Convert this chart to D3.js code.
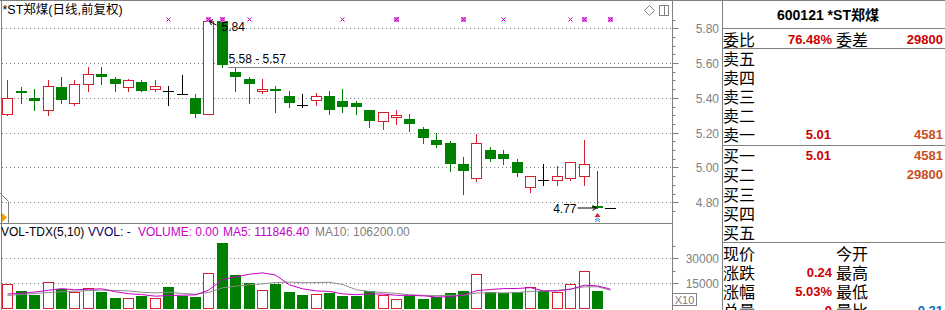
<!DOCTYPE html>
<html>
<head>
<meta charset="utf-8">
<script src="https://cdn.jsdelivr.net/npm/d3@7"></script>
<style>
  html, body { margin: 0; padding: 0; background: #fff; }
  svg { display: block; }
</style>
</head>
<body>
<div id="chart"></div>
<script>
// daily candles, oldest first (last one is today's pre-open, no trades yet)
const opens  = [5.31, 5.44, 5.40, 5.33, 5.46, 5.37, 5.48, 5.54, 5.51, 5.46, 5.49, 5.45, 5.44, 5.42, 5.40, 5.31,
                5.84, 5.55, 5.51, 5.44, 5.45, 5.41, 5.36, 5.39, 5.41, 5.38, 5.37, 5.33, 5.27, 5.29, 5.28, 5.22,
                5.16, 5.14, 5.02, 4.94, 5.10, 5.08, 5.03, 4.89, 4.93, 4.93, 4.94, 4.95, 4.78, 4.77];
const highs  = [5.50, 5.46, 5.45, 5.50, 5.52, 5.50, 5.58, 5.58, 5.52, 5.51, 5.50, 5.50, 5.47, 5.53, 5.42, 5.84,
                5.84, 5.57, 5.52, 5.51, 5.47, 5.44, 5.42, 5.43, 5.44, 5.45, 5.38, 5.33, 5.32, 5.33, 5.31, 5.23,
                5.20, 5.15, 5.06, 5.19, 5.12, 5.10, 5.05, 4.95, 5.02, 5.01, 5.03, 5.16, 4.98, 4.77];
const lows   = [5.30, 5.37, 5.33, 5.30, 5.37, 5.36, 5.44, 5.48, 5.44, 5.44, 5.44, 5.44, 5.36, 5.42, 5.29, 5.31,
                5.58, 5.44, 5.37, 5.43, 5.32, 5.35, 5.35, 5.36, 5.31, 5.32, 5.31, 5.23, 5.22, 5.25, 5.21, 5.14,
                5.12, 4.98, 4.85, 4.92, 5.04, 5.02, 4.95, 4.86, 4.90, 4.90, 4.93, 4.90, 4.77, 4.77];
const closes = [5.40, 5.43, 5.38, 5.47, 5.39, 5.48, 5.54, 5.52, 5.48, 5.50, 5.44, 5.47, 5.44, 5.42, 5.31, 5.84,
                5.59, 5.52, 5.48, 5.45, 5.44, 5.37, 5.36, 5.41, 5.33, 5.35, 5.35, 5.27, 5.32, 5.30, 5.25, 5.17,
                5.13, 5.02, 4.98, 5.14, 5.05, 5.05, 4.97, 4.95, 4.93, 4.95, 5.03, 5.02, 4.77, 4.77];
// volume in axis units (x10)
const volumes = [14330, 10060, 7810, 15370, 11100, 9630, 11710, 9450, 5790, 5610, 6830, 5610, 12500, 7010, 6400, 21040,
                 39330, 19820, 14940, 10490, 14510, 9450, 7620, 8230, 9020, 7010, 7200, 9880, 7810, 5000, 7200, 5370,
                 6400, 8840, 10060, 20250, 9450, 9000, 9450, 12300, 10100, 9450, 14330, 22080, 10060, 0];
const volMa5  = [8200, 8700, 9400, 10500, 11500, 10800, 11100, 11400, 9600, 8400, 7900, 6900, 7300, 7500, 7700, 10500,
                 17000, 18700, 20300, 21100, 19800, 13800, 11400, 10100, 9800, 8300, 7800, 8300, 8200, 7400, 7400, 7100,
                 6400, 6600, 7600, 10200, 11000, 11500, 11600, 12100, 10100, 10100, 11100, 13600, 13200, 11185];
const volMa10 = [7400, 7900, 8500, 9200, 9600, 9900, 10300, 10600, 10400, 10100, 9300, 8900, 9400, 8500, 8100, 9200,
                 12000, 13000, 13900, 14400, 15200, 15500, 15100, 15200, 15400, 14000, 10800, 9800, 9100, 8600, 7800, 7400,
                 7300, 7400, 7500, 8800, 9000, 8900, 9100, 9800, 10100, 10500, 11300, 12600, 12600, 10620];

const priceTicks = [4.80, 5.00, 5.20, 5.40, 5.60, 5.80];
const volTicks = [15000, 30000];
const markIdx = [12, 15, 16, 18, 25, 29, 34, 37, 42, 43, 45];   // magenta markers on top row
const markBold = [15, 16, 29, 34, 43, 45];

const stockTitle = '*ST郑煤(日线,前复权)';
const quoteTitle = '600121 *ST郑煤';
const highLabel = '5.84', gapLabel = '5.58 - 5.57', lowLabel = '4.77';
const gapPrice = 5.575, lowPrice = 4.77;
const volHeader = { volume: '0.00', ma5: '111846.40', ma10: '106200.00' };

const sellRows = ['卖五', '卖四', '卖三', '卖二', '卖一'];
const buyRows = ['买一', '买二', '买三', '买四', '买五'];
const sellPrices = ['', '', '', '', '5.01'];
const sellVols = ['', '', '', '', '4581'];
const buyPrices = ['5.01', '', '', '', ''];
const buyVols = ['4581', '29800', '', '', ''];
const statLeft = ['现价', '涨跌', '涨幅', '总量'];
const statLeftVal = ['', '0.24', '5.03%', '0'];
const statRight = ['今开', '最高', '最低', '量比'];
const statRightVal = ['', '', '', '0.31'];

const width = 945, height = 310;
const axisX = 672.5, panelX = 722.5;
const RED = '#d4202c', GREEN = '#008000', GRID = '#808080', MAG = '#c800c8';
const fLatin = '"Liberation Sans", Arial, "Noto Sans CJK SC", sans-serif';
const fCJK = '"Noto Sans CJK SC", "Liberation Sans", sans-serif';
const px = v => Math.round(v) + 0.5;

const n = closes.length;
const data = d3.range(n).map(i => ({ i, o: opens[i], h: highs[i], l: lows[i], c: closes[i], v: volumes[i] }));

const x = d3.scaleBand().domain(d3.range(n)).range([-0.9, 618.9]).padding(0.25);
const y = d3.scaleLinear().domain([4.80, 5.80]).range([202.3, 28.3]);
const yv = d3.scaleLinear().domain([0, 30000]).range([307.5, 258.3]);
const left = i => Math.round(x(i));
const cx = i => left(i) + 5.5;

const svg = d3.select('#chart').append('svg')
  .attr('width', width).attr('height', height)
  .style('font-family', fLatin);
svg.append('rect').attr('width', width).attr('height', height).attr('fill', '#fff');

// grid
svg.append('g').selectAll('line').data(priceTicks).join('line')
  .attr('x1', 2).attr('x2', axisX).attr('y1', d => px(y(d))).attr('y2', d => px(y(d)))
  .attr('stroke', GRID).attr('stroke-dasharray', '1,3');
svg.append('g').selectAll('line').data(volTicks).join('line')
  .attr('x1', 2).attr('x2', axisX).attr('y1', d => px(yv(d))).attr('y2', d => px(yv(d)))
  .attr('stroke', GRID).attr('stroke-dasharray', '1,3');

// frame
const frame = svg.append('g').attr('stroke', GRID).attr('fill', 'none');
frame.append('line').attr('x1', 0).attr('x2', width).attr('y1', 0.5).attr('y2', 0.5);
frame.append('line').attr('x1', 1.5).attr('x2', 1.5).attr('y1', 0).attr('y2', height);
frame.append('line').attr('x1', axisX).attr('x2', axisX).attr('y1', 0).attr('y2', height);
frame.append('line').attr('x1', panelX).attr('x2', panelX).attr('y1', 0).attr('y2', height);
frame.append('line').attr('x1', 0).attr('x2', axisX).attr('y1', 223.5).attr('y2', 223.5);
frame.append('path').attr('d', 'M0,193 L8.5,201.5 L8.5,223');
svg.append('path').attr('d', 'M2,213 L7,217.5 L2,222 Z').attr('fill', '#e8a000');

// axes
function styleAxis(g, ticks, scale) {
  g.select('.domain').remove();
  g.attr('font-family', fLatin).attr('font-size', 12).attr('color', GRID);
  g.selectAll('.tick').attr('transform', d => `translate(0,${px(scale(d))})`);
  g.selectAll('text').attr('text-anchor', 'end').attr('x', 46.5).attr('dy', '0.35em');
}
const pa = svg.append('g').attr('transform', `translate(${axisX},0)`)
  .call(d3.axisRight(y).tickValues(priceTicks).tickSize(6).tickFormat(d3.format('.2f')));
styleAxis(pa, priceTicks, y);
const minorP = d3.range(4.75, 5.86, 0.05).filter(v => !priceTicks.some(t => Math.abs(t - v) < 0.001) && y(v) > 4 && y(v) < 221);
svg.append('g').attr('transform', `translate(${axisX},0)`)
  .call(d3.axisRight(y).tickValues(minorP).tickSize(3).tickFormat(''))
  .call(g => { g.select('.domain').remove(); g.attr('color', GRID); g.selectAll('.tick').attr('transform', d => `translate(0,${px(y(d))})`); });
const va = svg.append('g').attr('transform', `translate(${axisX},0)`)
  .call(d3.axisRight(yv).tickValues(volTicks).tickSize(6).tickFormat(d3.format('d')));
styleAxis(va, volTicks, yv);
svg.append('g').attr('transform', `translate(${axisX},0)`)
  .call(d3.axisRight(yv).tickValues([22500, 37500]).tickSize(3).tickFormat(''))
  .call(g => { g.select('.domain').remove(); g.attr('color', GRID); g.selectAll('.tick').attr('transform', d => `translate(0,${px(yv(d))})`); });
svg.append('rect').attr('x', 672.5).attr('y', 293.5).attr('width', 24).attr('height', 12)
  .attr('fill', 'none').attr('stroke', GRID);
svg.append('text').attr('x', 684.5).attr('y', 304).attr('text-anchor', 'middle')
  .attr('font-size', 11).attr('fill', GRID).text('X10');

// candles
const colorOf = d => d.c > d.o ? RED : d.c < d.o ? GREEN : '#000';
const candle = svg.append('g').selectAll('g').data(data).join('g');
candle.append('line')
  .attr('x1', d => cx(d.i)).attr('x2', d => cx(d.i))
  .attr('y1', d => Math.round(y(d.h))).attr('y2', d => Math.round(y(d.l)) + 1)
  .attr('stroke', colorOf);
candle.filter(d => d.c !== d.o).append('rect')
  .attr('x', d => d.c > d.o ? left(d.i) + 0.5 : left(d.i))
  .attr('y', d => d.c > d.o ? px(y(d.c)) : Math.round(y(d.o)))
  .attr('width', d => d.c > d.o ? 10 : 11)
  .attr('height', d => {
    const hgt = Math.round(y(Math.min(d.o, d.c))) - Math.round(y(Math.max(d.o, d.c)));
    return d.c > d.o ? hgt : Math.max(hgt, 1);
  })
  .attr('fill', d => d.c > d.o ? '#fff' : GREEN)
  .attr('stroke', d => d.c > d.o ? RED : 'none');
candle.filter(d => d.c === d.o).append('line')
  .attr('x1', d => left(d.i)).attr('x2', d => left(d.i) + 11)
  .attr('y1', d => px(y(d.c))).attr('y2', d => px(y(d.c)))
  .attr('stroke', '#000');

// volume bars
const volUp = d => d.c > d.o || (d.c === d.o && d.i > 0 && d.c >= closes[d.i - 1]);
const base = Math.round(yv(0));
const bars = svg.append('g').selectAll('rect').data(data).join('rect')
  .attr('x', d => volUp(d) ? left(d.i) + 0.5 : left(d.i))
  .attr('y', d => volUp(d) ? px(yv(d.v)) : Math.round(yv(d.v)))
  .attr('width', d => volUp(d) ? 10 : 11)
  .attr('height', d => volUp(d) ? base - Math.round(yv(d.v)) : base + 1 - Math.round(yv(d.v)))
  .attr('fill', d => volUp(d) ? '#fff' : GREEN)
  .attr('stroke', d => volUp(d) ? RED : 'none');

const maLine = vals => d3.line().x((v, i) => cx(i)).y(v => yv(v))(vals);
svg.append('path').attr('d', maLine(volMa10)).attr('fill', 'none').attr('stroke', '#8c8c8c');
svg.append('path').attr('d', maLine(volMa5)).attr('fill', 'none').attr('stroke', MAG);

// top markers
const marks = svg.append('g');
marks.selectAll('rect').data(markBold).join('rect')
  .attr('x', i => cx(i) - 2.5).attr('y', 17).attr('width', 5).attr('height', 5)
  .attr('fill', '#e070e0');
marks.selectAll('path').data(markIdx).join('path')
  .attr('d', i => `M${cx(i) - 2},${17.5} L${cx(i) + 2},${21.5} M${cx(i) + 2},${17.5} L${cx(i) - 2},${21.5}`)
  .attr('stroke', MAG);

// price annotations
const hx = cx(15) + 1;
svg.append('path')
  .attr('d', `M${hx + 7},25 L${hx},21.5 M${hx},21.5 L${hx + 3.5},19.5 M${hx},21.5 L${hx + 2},25`)
  .attr('stroke', '#000').attr('fill', 'none');
svg.append('text').attr('x', hx + 12).attr('y', 31).attr('font-size', 12).text(highLabel);
svg.append('line').attr('x1', cx(16) + 6).attr('x2', axisX).attr('y1', px(y(gapPrice))).attr('y2', px(y(gapPrice)))
  .attr('stroke', GRID);
svg.append('text').attr('x', cx(16) + 6).attr('y', 63).attr('font-size', 12).text(gapLabel);
const lx = cx(44) - 1, ly = px(y(lowPrice)) - 0.5;
svg.append('path')
  .attr('d', `M${lx - 19},${ly} L${lx},${ly} M${lx},${ly} L${lx - 4},${ly - 2.5} M${lx},${ly} L${lx - 4},${ly + 2.5}`)
  .attr('stroke', '#000').attr('fill', 'none');
svg.append('text').attr('x', lx - 20).attr('y', ly + 4.5).attr('font-size', 12).attr('text-anchor', 'end').text(lowLabel);
svg.append('path').attr('d', `M${cx(44) - 3},217 L${cx(44)},213 L${cx(44) + 3},217 Z`).attr('fill', RED);
svg.append('path').attr('d', `M${cx(44) - 2.5},220 L${cx(44)},218 L${cx(44) + 2.5},220 M${cx(44) - 2.5},222 L${cx(44)},220 L${cx(44) + 2.5},222`)
  .attr('stroke', '#2a8ae0').attr('fill', 'none');

// titles and top-right icons
svg.append('text').attr('x', 2.5).attr('y', 14).attr('font-size', 12.5).text(stockTitle);
svg.append('path').attr('d', 'M649.5,5.5 L654.5,10.5 L649.5,15.5 L644.5,10.5 Z').attr('fill', 'none').attr('stroke', GRID);
svg.append('rect').attr('x', 659.5).attr('y', 5.5).attr('width', 9).attr('height', 10).attr('fill', 'none').attr('stroke', GRID);
svg.append('line').attr('x1', 664.5).attr('x2', 664.5).attr('y1', 5.5).attr('y2', 15.5).attr('stroke', GRID);

const header = svg.append('text').attr('x', 1).attr('y', 236).attr('font-size', 12);
header.append('tspan').attr('fill', '#000').text('VOL-TDX(5,10)');
header.append('tspan').attr('x', 88).attr('fill', '#000060').text('VVOL: -');
header.append('tspan').attr('x', 138).attr('fill', MAG).text('VOLUME: ' + volHeader.volume);
header.append('tspan').attr('x', 223).attr('fill', MAG).text('MA5: ' + volHeader.ma5);
header.append('tspan').attr('x', 315).attr('fill', '#808080').text('MA10: ' + volHeader.ma10);

// quote panel
const qp = svg.append('g');
[28.5, 48.5, 145.5, 242.5].forEach(yy =>
  qp.append('line').attr('x1', panelX).attr('x2', width).attr('y1', yy).attr('y2', yy).attr('stroke', GRID));
qp.append('text').attr('x', 828).attr('y', 20).attr('text-anchor', 'middle')
  .attr('font-size', 14).attr('font-weight', 'bold').text(quoteTitle);

const label = (t, xx, yy) => qp.append('text').attr('x', xx).attr('y', yy)
  .attr('dominant-baseline', 'central').attr('font-family', fCJK).attr('font-size', 16).text(t);
const num = (t, xx, yy, color) => qp.append('text').attr('x', xx).attr('y', yy + 0.5)
  .attr('dominant-baseline', 'central').attr('text-anchor', 'end')
  .attr('font-size', 13).attr('font-weight', 'bold').attr('fill', color).text(t);

label('委比', 723, 38.5); num('76.48%', 832, 38.5, '#cc0000');
label('委差', 836, 38.5); num('29800', 943, 38.5, '#cc0000');
const sellY = [58, 77, 96, 115, 134], buyY = [155, 174, 193.5, 213, 232], statY = [253, 272, 291, 310];
sellRows.forEach((t, k) => { label(t, 723, sellY[k]); num(sellPrices[k], 831, sellY[k], '#cc0000'); num(sellVols[k], 943, sellY[k], '#c8501e'); });
buyRows.forEach((t, k) => { label(t, 723, buyY[k]); num(buyPrices[k], 831, buyY[k], '#cc0000'); num(buyVols[k], 943, buyY[k], '#c8501e'); });
statLeft.forEach((t, k) => {
  label(t, 723, statY[k]); num(statLeftVal[k], 832, statY[k], '#cc0000');
  label(statRight[k], 836, statY[k]); num(statRightVal[k], 943, statY[k], '#0070c0');
});
</script>
</body>
</html>
